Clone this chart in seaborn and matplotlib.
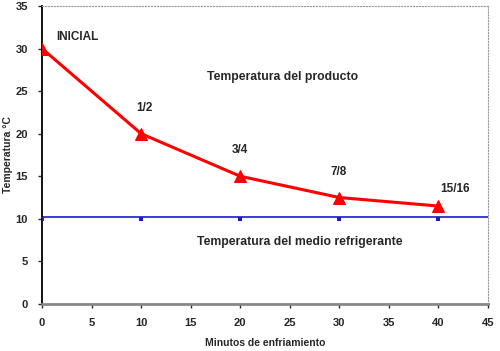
import seaborn as sns
import matplotlib.pyplot as plt
import pandas as pd

minutes = [0, 10, 20, 30, 40]
product_temp = [30, 20, 15, 12.5, 11.5]
medium_temp = [10, 10, 10, 10, 10]
medium_level = 10.2
stage_labels = ["INICIAL", "1/2", "3/4", "7/8", "15/16"]

df = pd.DataFrame({"min": minutes, "prod": product_temp, "medio": medium_temp})

sns.set_style("white")
plt.rcParams['font.family'] = ['Liberation Sans', 'DejaVu Sans']
plt.rcParams['font.weight'] = 'bold'

fig = plt.figure(figsize=(5, 3.51), dpi=100)
ax = fig.add_axes([0.084, 0.134, 0.892, 0.849])

ax.axhline(medium_level, color="#1a1acc", lw=1.2, zorder=2)
sns.scatterplot(data=df, x="min", y="medio", ax=ax, color="#1a1acc", marker="s",
                s=8, edgecolor="none", zorder=3)
sns.lineplot(data=df, x="min", y="prod", ax=ax, color="#ff0000", lw=2.2,
             marker="^", markersize=8.5, markeredgecolor="#ff0000", zorder=4)

# label positions (text centres) per stage
label_pos = [(3.6, 31.4), (10.3, 23.0), (20.0, 18.1), (29.9, 15.5), (41.7, 13.5)]
for lab, (lx, ly) in zip(stage_labels, label_pos):
    ax.text(lx, ly, lab, fontsize=8.5, fontweight="bold", ha="center", va="center")

ax.text(24.3, 26.7, "Temperatura del producto", fontsize=8.8, fontweight="bold",
        ha="center", va="center")
ax.text(26.0, 7.3, "Temperatura del medio refrigerante", fontsize=8.8,
        fontweight="bold", ha="center", va="center")

ax.set_xlim(0, 45)
ax.set_ylim(0, 35)
ax.set_xticks(range(0, 46, 5))
ax.set_yticks(range(0, 36, 5))
ax.tick_params(axis="both", labelsize=8, length=3, width=1, direction="out",
               bottom=True, left=True, pad=7)
for lab in ax.get_xticklabels() + ax.get_yticklabels():
    lab.set_fontweight("bold")

ax.spines["left"].set_color("black")
ax.spines["left"].set_linewidth(1.3)
ax.spines["bottom"].set_color("#888888")
ax.spines["bottom"].set_linewidth(2)
for s in ["top", "right"]:
    ax.spines[s].set_color("#999999")
    ax.spines[s].set_linestyle(":")
    ax.spines[s].set_linewidth(0.8)

ax.set_xlabel("Minutos de enfriamiento", fontsize=7.5, fontweight="bold", labelpad=7)
ax.set_ylabel("Temperatura °C", fontsize=7.5, fontweight="bold", va="center")
ax.yaxis.set_label_coords(-0.076, 0.5)

fig.savefig("out.png", dpi=100)
